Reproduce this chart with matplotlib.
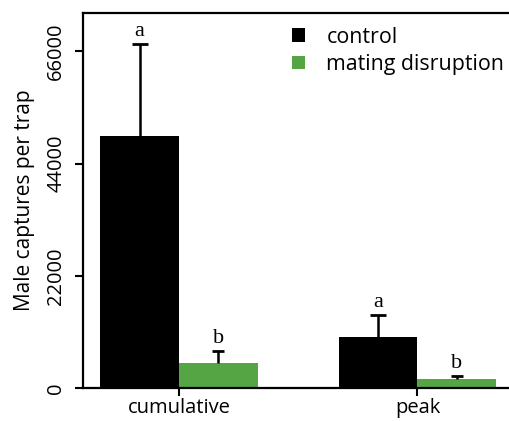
import numpy as np
import matplotlib
matplotlib.use("Agg")
import matplotlib.pyplot as plt

# Data
groups = ["cumulative", "peak"]
control = [49400, 10050]
control_err = [18100, 4250]
disruption = [4850, 1700]
disruption_err = [2450, 700]
letters_control = ["a", "a"]
letters_disruption = ["b", "b"]
yticks = [0, 22000, 44000, 66000]

plt.rcParams.update({
    "font.family": ["Open Sans", "DejaVu Sans"],
    "font.size": 15,
})

fig = plt.figure(figsize=(5.1, 4.21), dpi=100)
ax = fig.add_axes([0.1627, 0.0784, 0.8373, 0.8907])

x = np.arange(len(groups))
w = 0.331
green = "#55a544"

ax.bar(x - w / 2, control, w, color="black", label="control")
ax.bar(x + w / 2, disruption, w, color=green, label="mating disruption")

# one-sided error bars, cap on top only
ctop = np.array(control) + np.array(control_err)
dtop = np.array(disruption) + np.array(disruption_err)
ax.vlines(x - w / 2, control, ctop, color="black", lw=1.8)
ax.vlines(x + w / 2, disruption, dtop, color="black", lw=1.8)
ax.plot(x - w / 2, ctop, ls="none", marker="_", ms=11, mew=2, color="black")
ax.plot(x + w / 2, dtop, ls="none", marker="_", ms=9, mew=2, color="black")

for i in range(len(groups)):
    ax.text(x[i] - w / 2, ctop[i] + 600, letters_control[i],
            ha="center", va="bottom", family="Liberation Serif", fontsize=16)
    ax.text(x[i] + w / 2, dtop[i] + 600, letters_disruption[i],
            ha="center", va="bottom", family="Liberation Serif", fontsize=16)

ax.set_xlim(-0.4025, 1.388)
ax.set_ylim(0, 73500)
ax.set_yticks(yticks)
ax.set_yticklabels([str(t) for t in yticks], rotation=90, va="center")
ax.set_xticks(x)
ax.set_xticklabels(groups)
ax.tick_params(axis="both", direction="out", length=6, width=1.5, labelsize=14.5)
ax.tick_params(axis="y", pad=6)
ax.tick_params(axis="x", pad=1)
ax.set_ylabel("Male captures per trap", fontsize=15, labelpad=8)

for s in ["left", "top", "bottom"]:
    ax.spines[s].set_linewidth(1.6)
ax.spines["right"].set_visible(False)

ax.legend(loc="upper left", bbox_to_anchor=(0.445, 1.015), frameon=False,
          handlelength=0.6, handleheight=0.6, handletextpad=1.0,
          labelspacing=0.3, fontsize=15.4)

fig.savefig("out.png", dpi=100)
